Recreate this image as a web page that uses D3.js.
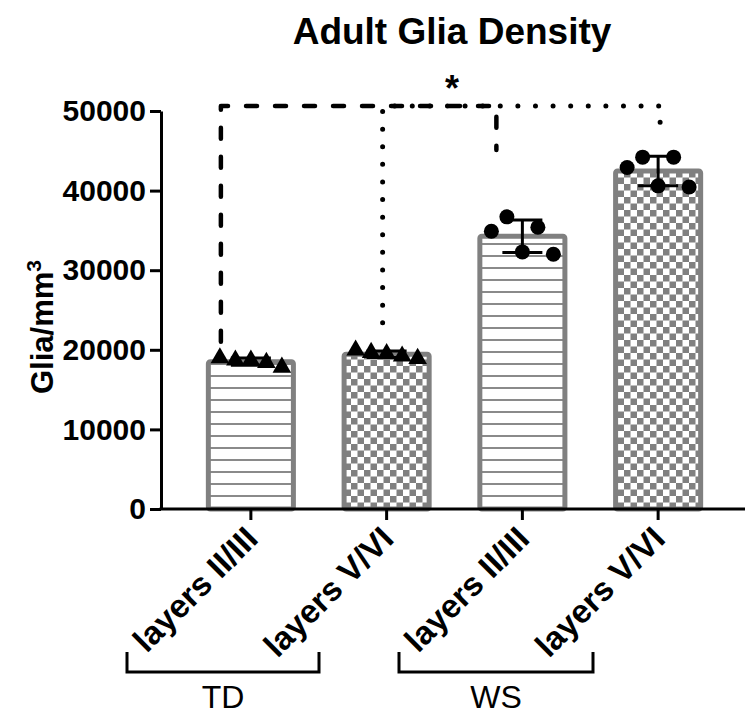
<!DOCTYPE html>
<html>
<head>
<meta charset="utf-8">
<script src="https://cdn.jsdelivr.net/npm/d3@7"></script>
<style>
  body { margin: 0; background: #fff; }
  svg text { font-family: "Liberation Sans", Arial, sans-serif; }
</style>
</head>
<body>
<svg id="chart" width="745" height="715"></svg>
<script>
// chart values
const categories = ["TD II/III", "TD V/VI", "WS II/III", "WS V/VI"];
const tickLabels = ["layers II/III", "layers V/VI", "layers II/III", "layers V/VI"];
const groups = ["TD", "WS"];
const patterns = ["lines", "checks", "lines", "checks"];
const markers = ["triangle", "triangle", "circle", "circle"];
// individual animals, left to right as they sit in the scatter
const tdLayer23 = [18970, 18690, 18690, 18400, 17800];
const tdLayer56 = [19950, 19650, 19500, 19200, 18900];
const wsLayer23 = [34900, 36700, 32300, 35400, 32000];
const wsLayer56 = [42900, 44200, 40600, 44200, 40450];
const yTicks = [0, 10000, 20000, 30000, 40000, 50000];
// comparison brackets: from, to, top value, foot values, style
const compFrom = ["TD II/III", "TD V/VI"];
const compTo = ["WS II/III", "WS V/VI"];
const compTop = [50630, 50630];
const compFootLeft = [21000, 23400];
const compFootRight = [45100, 46600];
const compStyle = ["dashed", "dotted"];

var points = [tdLayer23, tdLayer56, wsLayer23, wsLayer56];
var data = categories.map(function(c, i) {
  return {
    cat: c,
    label: tickLabels[i],
    pattern: patterns[i],
    marker: markers[i],
    values: points[i],
    mean: d3.mean(points[i]),
    sd: d3.deviation(points[i])
  };
});

var svg = d3.select('#chart');
var svgWidth = +svg.attr('width');

var padding = { t: 111, r: 19, b: 206, l: 161 };

var x = d3.scaleBand()
  .domain(categories)
  .range([183, 726])
  .paddingInner(0.344)
  .paddingOuter(0.172);

var y = d3.scaleLinear()
  .domain([0, 50000])
  .range([509, 111]);

var barWidth = x.bandwidth();
var jitter = 15.5;

// fill patterns
var defs = svg.append('defs');
var lines = defs.append('pattern')
  .attr('id', 'lines')
  .attr('patternUnits', 'userSpaceOnUse')
  .attr('width', 10)
  .attr('height', 12)
  .attr('y', 509);
lines.append('rect').attr('width', 10).attr('height', 12).attr('fill', '#fff');
lines.append('rect').attr('y', 10).attr('width', 10).attr('height', 2).attr('fill', '#8a8a8a');

var checks = defs.append('pattern')
  .attr('id', 'checks')
  .attr('patternUnits', 'userSpaceOnUse')
  .attr('width', 13)
  .attr('height', 13)
  .attr('y', 509);
checks.append('rect').attr('width', 13).attr('height', 13).attr('fill', '#fff');
checks.append('rect').attr('width', 6.5).attr('height', 6.5).attr('fill', '#808080');
checks.append('rect').attr('x', 6.5).attr('y', 6.5).attr('width', 6.5).attr('height', 6.5).attr('fill', '#808080');

// title
svg.append('text')
  .attr('x', 452)
  .attr('y', 44)
  .attr('text-anchor', 'middle')
  .attr('font-size', '37px')
  .attr('font-weight', 'bold')
  .text('Adult Glia Density');

// bars
var chartG = svg.append('g');
chartG.selectAll('.bar')
  .data(data)
  .enter()
  .append('rect')
  .attr('class', 'bar')
  .attr('x', d => x(d.cat) + 2)
  .attr('width', barWidth - 4)
  .attr('y', d => y(d.mean))
  .attr('height', d => y(0) - y(d.mean))
  .attr('rx', 2)
  .attr('fill', d => 'url(#' + d.pattern + ')')
  .attr('stroke', '#808080')
  .attr('stroke-width', 5);

// error bars (mean +/- SD)
var errG = chartG.selectAll('.err')
  .data(data)
  .enter()
  .append('g')
  .attr('class', 'err')
  .attr('transform', d => `translate(${x(d.cat) + barWidth / 2}, 0)`)
  .attr('stroke', '#000')
  .attr('stroke-width', 3);
errG.append('line')
  .attr('x1', 0).attr('x2', 0)
  .attr('y1', d => y(d.mean + d.sd))
  .attr('y2', d => y(d.mean - d.sd));
errG.append('line')
  .attr('x1', -20).attr('x2', 20)
  .attr('y1', d => y(d.mean + d.sd))
  .attr('y2', d => y(d.mean + d.sd));
errG.append('line')
  .attr('x1', -20).attr('x2', 20)
  .attr('y1', d => y(d.mean - d.sd))
  .attr('y2', d => y(d.mean - d.sd));

// individual points
var tri = d3.symbol().type(d3.symbolTriangle).size(150);
data.forEach(function(d) {
  var cx = x(d.cat) + barWidth / 2;
  var g = chartG.append('g');
  d.values.forEach(function(v, i) {
    var px = cx + (i - 2) * jitter;
    if (d.marker === 'triangle') {
      g.append('path')
        .attr('d', tri)
        .attr('transform', `translate(${px}, ${y(v)})`)
        .attr('fill', '#000');
    } else {
      g.append('circle')
        .attr('cx', px)
        .attr('cy', y(v))
        .attr('r', 7.5)
        .attr('fill', '#000');
    }
  });
});

// significance brackets
var offsL = [-30, -4];
var offsR = [-26, 2];
compFrom.forEach(function(c, i) {
  var x0 = x(c) + barWidth / 2 + offsL[i];
  var x1 = x(compTo[i]) + barWidth / 2 + offsR[i];
  var p = d3.path();
  p.moveTo(x0, y(compFootLeft[i]));
  p.lineTo(x0, y(compTop[i]));
  p.lineTo(x1, y(compTop[i]));
  p.lineTo(x1, y(compFootRight[i]));
  svg.append('path')
    .attr('d', p.toString())
    .attr('fill', 'none')
    .attr('stroke', '#000')
    .attr('stroke-linecap', 'round')
    .attr('stroke-linejoin', 'round')
    .attr('stroke-width', compStyle[i] === 'dashed' ? 4.5 : 5)
    .attr('stroke-dasharray', compStyle[i] === 'dashed' ? '11 18' : '0 17.6');
});

svg.append('text')
  .attr('x', 452)
  .attr('y', 101)
  .attr('text-anchor', 'middle')
  .attr('font-size', '36px')
  .attr('font-weight', 'bold')
  .text('*');

// y axis
var yAxis = d3.axisLeft(y)
  .tickValues(yTicks)
  .tickSize(11)
  .tickSizeOuter(0)
  .tickPadding(4)
  .tickFormat(d3.format('d'));

var yG = svg.append('g')
  .attr('transform', `translate(${padding.l}, 0)`)
  .call(yAxis);
yG.selectAll('path, line').attr('stroke', '#000').attr('stroke-width', 3);
yG.selectAll('text')
  .attr('font-size', '30px')
  .attr('font-weight', 'bold')
  .attr('font-family', '"Liberation Sans", Arial, sans-serif')
  .attr('fill', '#000');

// x axis
var xAxis = d3.axisBottom(x)
  .tickSize(11)
  .tickSizeOuter(0)
  .tickFormat((d, i) => tickLabels[i]);

var xG = svg.append('g')
  .attr('transform', `translate(0, ${y(0)})`)
  .call(xAxis);
xG.select('.domain').remove();
xG.append('line')
  .attr('x1', padding.l - 1.5)
  .attr('x2', svgWidth)
  .attr('stroke', '#000')
  .attr('stroke-width', 3);
xG.selectAll('line').attr('stroke', '#000').attr('stroke-width', 3);
xG.selectAll('.tick text')
  .attr('x', 0)
  .attr('y', 0)
  .attr('dy', '0.72em')
  .attr('transform', 'translate(-8, 15) rotate(-45)')
  .style('text-anchor', 'end')
  .attr('font-size', '33px')
  .attr('font-weight', 'bold')
  .attr('font-family', '"Liberation Sans", Arial, sans-serif')
  .attr('fill', '#000');

// group brackets under the labels
var groupEdges = [[127, 319], [399, 593]];
groups.forEach(function(g, i) {
  var e = groupEdges[i];
  svg.append('path')
    .attr('d', `M${e[0]},652 V672 H${e[1]} V652`)
    .attr('fill', 'none')
    .attr('stroke', '#000')
    .attr('stroke-width', 3);
  svg.append('text')
    .attr('x', (e[0] + e[1]) / 2)
    .attr('y', 708)
    .attr('text-anchor', 'middle')
    .attr('font-size', '32px')
    .text(g);
});

// y axis title
svg.append('text')
  .attr('transform', 'translate(53, 327) rotate(-90)')
  .attr('text-anchor', 'middle')
  .attr('font-size', '31px')
  .attr('font-weight', 'bold')
  .text('Glia/mm')
  .append('tspan')
  .attr('dy', '-0.55em')
  .attr('font-size', '21px')
  .text('3');
</script>
</body>
</html>
